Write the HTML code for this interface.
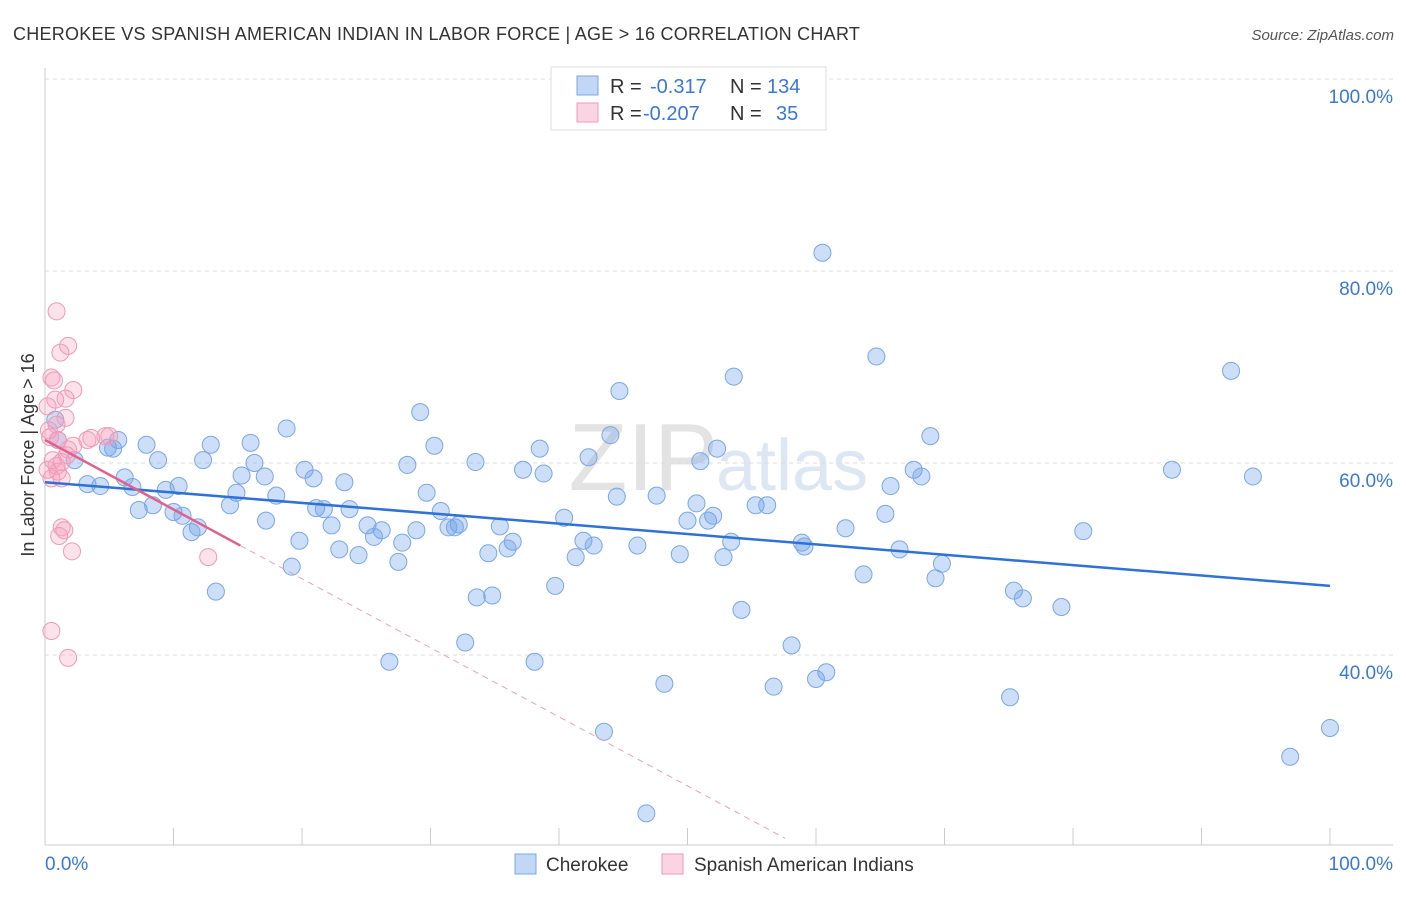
<!DOCTYPE html>
<html><head><meta charset="utf-8">
<style>
body{margin:0;background:#fff;font-family:"Liberation Sans",sans-serif;}
svg text{font-family:"Liberation Sans",sans-serif;}
</style></head>
<body>
<svg id="chart" width="1406" height="892" viewBox="0 0 1406 892" xmlns="http://www.w3.org/2000/svg">
<text x="13" y="40" font-size="18" fill="#333" letter-spacing="0.25">CHEROKEE VS SPANISH AMERICAN INDIAN IN LABOR FORCE | AGE &gt; 16 CORRELATION CHART</text>
<text x="1394" y="40" font-size="15" fill="#555" font-style="italic" text-anchor="end">Source: ZipAtlas.com</text>
<text x="718" y="490" font-size="96" fill="#e3e3e3" text-anchor="end" font-family="Liberation Serif">ZIP</text>
<text x="716" y="490" font-size="72" fill="#dde6f3">atlas</text>
<g id="grid"></g>
<g id="axes"></g>
<g id="pts"></g>
<g id="trend"></g>
<text transform="translate(34,455) rotate(-90)" font-size="18" fill="#333" text-anchor="middle">In Labor Force | Age &gt; 16</text>
<g>
<rect x="551" y="67" width="275" height="63" fill="#fff" stroke="#ddd"/>
<rect x="577" y="76" width="21" height="19" fill="rgba(120,165,235,0.45)" stroke="#7ba7e3"/>
<rect x="577" y="103" width="21" height="19" fill="rgba(245,160,190,0.45)" stroke="#f09ab5"/>
<text x="610" y="93" font-size="20" fill="#333">R =</text>
<text x="650" y="93" font-size="20" fill="#3a78d6">-0.317</text>
<text x="730" y="93" font-size="20" fill="#333">N =</text>
<text x="767" y="93" font-size="20" fill="#3a78d6">134</text>
<text x="610" y="120" font-size="20" fill="#333">R =</text>
<text x="643" y="120" font-size="20" fill="#3a78d6">-0.207</text>
<text x="730" y="120" font-size="20" fill="#333">N =</text>
<text x="776" y="120" font-size="20" fill="#3a78d6">35</text>
</g>
<g>
<rect x="515" y="854" width="21" height="20" fill="rgba(120,165,235,0.45)" stroke="#7ba7e3"/>
<text x="546" y="871" font-size="19" fill="#333">Cherokee</text>
<rect x="662" y="854" width="21" height="20" fill="rgba(245,160,190,0.45)" stroke="#f09ab5"/>
<text x="694" y="871" font-size="19" fill="#333">Spanish American Indians</text>
</g>
</svg>
<script>
const blueX=[60.5,64.7,92.3,53.6,44.7,29.2,18.8,68.9,44.0,5.7,7.9,12.9,16.0,30.3,38.5,52.3,4.9,5.3,1.0,0.8,2.3,8.8,12.3,16.3,28.2,33.5,51.0,67.6,68.2,87.7,94.0,15.3,17.1,20.2,20.9,6.2,3.3,4.3,6.8,10.4,9.4,14.9,18.0,23.3,29.7,42.3,37.2,38.8,47.6,44.5,65.8,50.7,55.3,56.2,14.4,7.3,8.4,10.0,10.7,11.9,11.4,17.2,21.1,21.7,23.7,30.8,32.2,31.4,40.4,52.0,51.6,50.0,65.4,62.3,80.8,22.3,25.1,26.2,25.6,28.9,31.9,35.4,19.8,22.9,24.4,27.8,36.4,36.0,34.5,41.9,42.7,41.3,46.1,49.4,53.4,58.9,59.1,52.8,66.5,69.8,69.3,63.7,19.2,27.5,39.7,33.6,34.8,13.3,54.2,75.4,76.1,79.1,58.1,32.7,26.8,38.1,60.8,60.0,48.2,56.7,75.1,100,43.5,96.9,46.8];
const blueY=[81.9,71.1,69.6,69.0,67.5,65.3,63.6,62.8,62.9,62.4,61.9,61.9,62.1,61.8,61.5,61.5,61.6,61.5,62.4,64.5,60.3,60.3,60.3,60.0,59.8,60.1,60.2,59.3,58.6,59.3,58.6,58.7,58.6,59.3,58.4,58.5,57.8,57.6,57.5,57.6,57.2,56.9,56.6,58.0,56.9,60.6,59.3,58.9,56.6,56.5,57.6,55.8,55.6,55.6,55.6,55.1,55.6,54.9,54.5,53.3,52.8,54.0,55.3,55.2,55.2,55.0,53.6,53.3,54.3,54.5,54.0,54.0,54.7,53.2,52.9,53.5,53.5,53.0,52.3,53.0,53.3,53.4,51.9,51.0,50.4,51.7,51.8,51.1,50.6,51.9,51.4,50.2,51.4,50.5,51.8,51.7,51.3,50.2,51.0,49.5,48.0,48.4,49.2,49.7,47.2,46.0,46.2,46.6,44.7,46.7,45.9,45.0,41.0,41.3,39.3,39.3,38.2,37.5,37.0,36.7,35.6,32.4,32.0,29.4,23.5];
const pinkX=[0.9,1.8,1.2,0.5,0.7,2.2,0.8,1.6,0.2,1.6,0.9,0.3,0.4,1.0,3.6,3.3,4.7,5.0,2.2,1.8,1.7,0.9,1.0,0.5,1.3,1.3,1.5,1.1,2.1,12.7,0.5,1.8,0.2,0.6,1.3];
const pinkY=[75.8,72.2,71.5,68.9,68.6,67.6,66.6,66.7,65.9,64.7,64.0,63.4,62.7,62.4,62.6,62.4,62.8,62.8,61.8,61.4,60.8,59.7,59.1,58.4,58.4,53.3,53.0,52.4,50.8,50.2,42.5,39.7,59.3,60.3,60.1];
const yTicks=[100,80,60,40];
const yTickLabels=["100.0%","80.0%","60.0%","40.0%"];
const blueTrend=[[0,58.0],[100,47.2]];
const pinkTrendSolid=[[0,62.4],[15.2,51.4]];
const pinkTrendDash=[[15.2,51.4],[57.6,20.9]];
const NS="http://www.w3.org/2000/svg";
const sx=v=>45+v*12.85, sy=v=>79+(100-v)*9.6;
function mk(tag,attrs,parent){const e=document.createElementNS(NS,tag);for(const k in attrs)e.setAttribute(k,attrs[k]);parent.appendChild(e);return e;}
const grid=document.getElementById('grid'),axes=document.getElementById('axes'),pts=document.getElementById('pts'),tr=document.getElementById('trend');
yTicks.forEach((t,i)=>{
 const l=mk('line',{x1:45,x2:1393,y1:sy(t),y2:sy(t),stroke:'#ddd','stroke-dasharray':'4,4'},grid);
 
 
 const tx=mk('text',{x:1393,y:sy(t)+24,'font-size':19,fill:'#3a78d6','text-anchor':'end'},grid);
 tx.textContent=yTickLabels[i];
 
 
});
const la=mk('line',{x1:45,x2:45,y1:68,y2:845,stroke:'#ccc'},axes);


const lb=mk('line',{x1:45,x2:1393,y1:845,y2:845,stroke:'#ccc'},axes);


for(let i=0;i<=10;i++){
 const t=mk('line',{x1:sx(i*10),x2:sx(i*10),y1:828,y2:845,stroke:'#ccc'},axes);
 
 
}
const x0=mk('text',{x:45,y:870,'font-size':19,fill:'#3a78d6'},axes);x0.textContent='0.0%';


const x1=mk('text',{x:1393,y:870,'font-size':19,fill:'#3a78d6','text-anchor':'end'},axes);x1.textContent='100.0%';


blueX.forEach((x,i)=>{
 const c=mk('circle',{cx:sx(x),cy:sy(blueY[i]),r:8.5,fill:'rgba(110,160,235,0.35)',stroke:'#7ba7e3','stroke-width':1},pts);
 
 
});
pinkX.forEach((x,i)=>{
 const c=mk('circle',{cx:sx(x),cy:sy(pinkY[i]),r:8.5,fill:'rgba(245,160,190,0.3)',stroke:'#f09ab5','stroke-width':1},pts);
 
 
});
const b=mk('line',{x1:sx(blueTrend[0][0]),y1:sy(blueTrend[0][1]),x2:sx(blueTrend[1][0]),y2:sy(blueTrend[1][1]),stroke:'#2f72d6','stroke-width':2.5},tr);


const p=mk('line',{x1:sx(pinkTrendSolid[0][0]),y1:sy(pinkTrendSolid[0][1]),x2:sx(pinkTrendSolid[1][0]),y2:sy(pinkTrendSolid[1][1]),stroke:'#e0618c','stroke-width':2.5},tr);


const pd=mk('line',{x1:sx(pinkTrendDash[0][0]),y1:sy(pinkTrendDash[0][1]),x2:sx(pinkTrendDash[1][0]),y2:sy(pinkTrendDash[1][1]),stroke:'#f0a0b8','stroke-width':1,'stroke-dasharray':'6,5'},tr);


</script>
</body></html>
